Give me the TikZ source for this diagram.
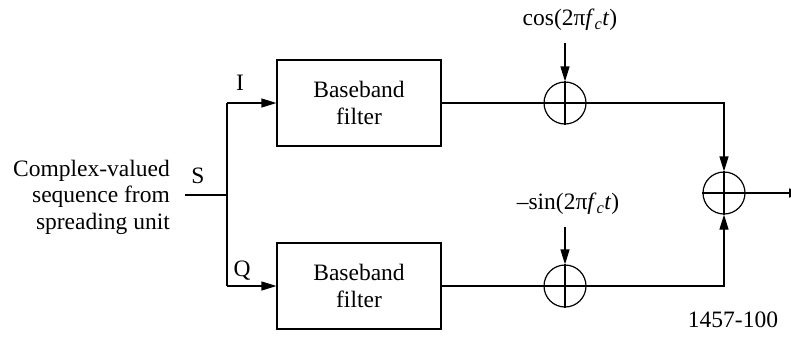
\documentclass[tikz,border=0pt]{standalone}
\usepackage{fontspec}
\setmainfont{Liberation Serif}
\usetikzlibrary{arrows.meta}
\begin{document}
\begin{tikzpicture}[x=1pt,y=-1pt,
  every node/.style={font=\fontsize{23.5}{26.5}\selectfont},
  wire/.style={line width=1.2pt},
  arr/.style={wire,-{Triangle[length=15pt,width=9pt]}},
  filterbox/.style={draw,line width=1.2pt,minimum width=164pt,minimum height=86pt,inner sep=0pt,align=center},
  mixer/.style={draw,circle,line width=1.2pt,minimum size=42pt,inner sep=0pt}]
\useasboundingbox (0,0) rectangle (791,341);
\node[align=right,anchor=east,inner sep=0pt] (src) at (170,197) {Complex-valued\\sequence from\\spreading unit};
\coordinate (in) at (185,195);
\coordinate (sp) at (227,195);
\coordinate (spI) at (227,103);
\coordinate (spQ) at (227,286);
\node[filterbox] (f1) at (359,103) {Baseband\\filter};
\node[filterbox] (f2) at (359,286) {Baseband\\filter};
\node[mixer] (m1) at (565,103) {};
\node[mixer] (m2) at (565,286) {};
\node[mixer] (sum) at (724,193) {};
\foreach \c in {m1,m2,sum}{
  \draw[wire] (\c.north) -- (\c.south);
  \draw[wire] (\c.west) -- (\c.east);
}
\node[inner sep=0pt] (S) at (198,176) {S};
\node[inner sep=0pt] (I) at (240,83) {I};
\node[inner sep=0pt] (Q) at (242,271) {Q};
\node[inner sep=0pt] (cosl) at (570,20) {cos(2π\textit{f}\textsubscript{\textit{c}}\textit{t})};
\node[inner sep=0pt] (sinl) at (568,204) {–sin(2π\textit{f}\textsubscript{\textit{c}}\textit{t})};
\coordinate (cosa) at (565,43);
\coordinate (sina) at (565,227);
\node[inner sep=0pt] (fig) at (733,320) {1457-100};
\coordinate (out) at (804,193);
\draw[wire] (in) -- (sp);
\draw[wire] (spI) -- (spQ);
\draw[arr] (spI) -- (f1.west);
\draw[arr] (spQ) -- (f2.west);
\draw[wire] (f1.east) -- (m1.west);
\draw[wire] (f2.east) -- (m2.west);
\draw[arr] (cosa) -- (m1.north);
\draw[arr] (sina) -- (m2.north);
\draw[arr] (m1.east) -| (sum.north);
\draw[arr] (m2.east) -| (sum.south);
\draw[arr] (sum.east) -- (out);
\end{tikzpicture}
\end{document}
